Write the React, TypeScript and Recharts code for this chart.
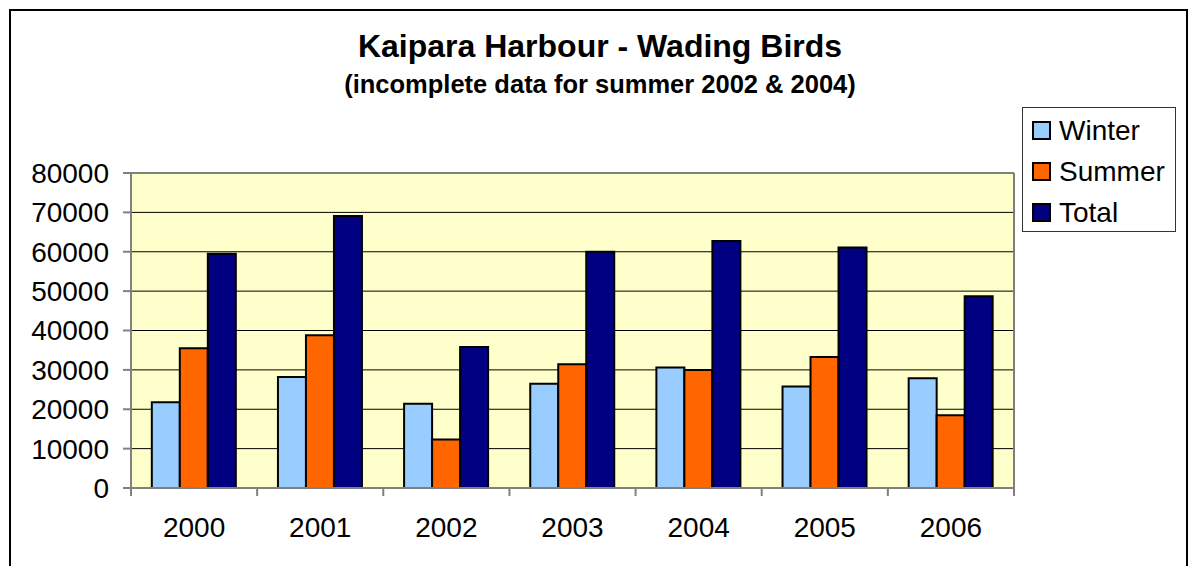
import React from 'react';
import { BarChart, Bar, XAxis, YAxis, CartesianGrid, Legend, ReferenceLine } from 'recharts';

const years = ['2000', '2001', '2002', '2003', '2004', '2005', '2006'];
const winter = [21800, 28200, 21400, 26500, 30600, 25800, 27900];
const summer = [35500, 38800, 12300, 31400, 30000, 33300, 18500];
const total = [59500, 69100, 35800, 60000, 62700, 61100, 48700];
const yTicks = [0, 10000, 20000, 30000, 40000, 50000, 60000, 70000, 80000];

const seriesOrder = ['Winter', 'Summer', 'Total'];
const colors = { winter: '#99CCFF', summer: '#FF6600', total: '#000080' };

const data = years.map((y, i) => ({
  year: y,
  winter: winter[i],
  summer: summer[i],
  total: total[i],
}));

const FONT = '"Liberation Sans", Arial, sans-serif';
const W = 1189;
const H = 566;
const MARGIN = { top: 173, right: 175, bottom: 38, left: 20 };
const Y_AXIS_W = 111;
const PLOT_W = W - MARGIN.left - MARGIN.right - Y_AXIS_W;
const X_TICK = 8;
const X_TICK_MARGIN = 21;
const AXIS_GRAY = '#808080';

const XTick = (props: any) => {
  const { x, y, payload, index } = props;
  const band = PLOT_W / years.length;
  const ty = y - X_TICK - X_TICK_MARGIN;
  return (
    <g>
      <line x1={x - band / 2} x2={x - band / 2} y1={ty} y2={ty + X_TICK} stroke={AXIS_GRAY} strokeWidth={2} />
      {index === years.length - 1 && (
        <line x1={x + band / 2} x2={x + band / 2} y1={ty} y2={ty + X_TICK} stroke={AXIS_GRAY} strokeWidth={2} />
      )}
      <text x={x} y={y} dy="0.71em" textAnchor="middle" fontSize={28} fontFamily={FONT} fill="#000">
        {payload.value}
      </text>
    </g>
  );
};

const LegendContent = (props: any) => {
  const items = [...(props.payload || [])].sort(
    (a: any, b: any) => seriesOrder.indexOf(a.value) - seriesOrder.indexOf(b.value)
  );
  return (
    <div
      style={{
        width: 152,
        height: 121,
        border: '1px solid #333',
        background: '#fff',
        boxSizing: 'content-box',
        paddingTop: 2,
      }}
    >
      {items.map((p: any) => (
        <div key={p.value} style={{ display: 'flex', alignItems: 'center', height: 41, marginLeft: 9 }}>
          <div
            style={{
              width: 15,
              height: 15,
              background: p.color,
              border: '2px solid #000',
              marginRight: 8,
            }}
          />
          <span style={{ fontFamily: FONT, fontSize: 28, color: '#000', lineHeight: '41px' }}>{p.value}</span>
        </div>
      ))}
    </div>
  );
};

export default function App() {
  return (
    <div style={{ position: 'absolute', left: 0, top: 0, width: W, height: H, background: '#fff', overflow: 'hidden' }}>
      <div
        style={{
          position: 'absolute',
          left: 9,
          top: 9,
          width: 1175,
          height: 600,
          border: '2px solid #000',
        }}
      />
      <div
        style={{
          position: 'absolute',
          left: 0,
          width: 1200,
          top: 30,
          textAlign: 'center',
          fontFamily: FONT,
          fontWeight: 'bold',
          fontSize: 32,
          lineHeight: '32px',
          color: '#000',
        }}
      >
        Kaipara Harbour - Wading Birds
      </div>
      <div
        style={{
          position: 'absolute',
          left: 0,
          width: 1200,
          top: 71,
          textAlign: 'center',
          fontFamily: FONT,
          fontWeight: 'bold',
          fontSize: 25.5,
          lineHeight: '26px',
          color: '#000',
        }}
      >
        (incomplete data for summer 2002 &amp; 2004)
      </div>
      <div style={{ position: 'absolute', left: 0, top: 0 }}>
        <BarChart
          width={W}
          height={H}
          data={data}
          margin={MARGIN}
          barCategoryGap="16.5%"
          barGap={0}
        >
          <CartesianGrid fill="#FFFFCC" stroke="#000" strokeWidth={1} vertical={false} />
          <CartesianGrid
            horizontal={false}
            stroke={AXIS_GRAY}
            strokeWidth={2}
            verticalCoordinatesGenerator={({ offset }: any) => [offset.left + offset.width]}
          />
          <ReferenceLine y={80000} stroke={AXIS_GRAY} strokeWidth={2} />
          <XAxis
            dataKey="year"
            height={40}
            tickLine={false}
            tickSize={X_TICK}
            tickMargin={X_TICK_MARGIN}
            axisLine={{ stroke: AXIS_GRAY, strokeWidth: 2 }}
            tick={<XTick />}
            interval={0}
          />
          <YAxis
            width={Y_AXIS_W}
            domain={[0, 80000]}
            ticks={yTicks}
            interval={0}
            tickSize={8}
            tickMargin={14}
            axisLine={{ stroke: AXIS_GRAY, strokeWidth: 2 }}
            tickLine={{ stroke: AXIS_GRAY, strokeWidth: 2 }}
            tick={{ fontSize: 28, fontFamily: FONT, fill: '#000' }}
          />
          <Legend
            layout="vertical"
            align="center"
            verticalAlign="middle"
            content={<LegendContent />}
            wrapperStyle={{ left: 1022, top: 107, width: 154, height: 124, right: 'auto', bottom: 'auto' }}
          />
          <Bar dataKey="winter" name="Winter" fill={colors.winter} stroke="#000" strokeWidth={2} isAnimationActive={false} />
          <Bar dataKey="summer" name="Summer" fill={colors.summer} stroke="#000" strokeWidth={2} isAnimationActive={false} />
          <Bar dataKey="total" name="Total" fill={colors.total} stroke="#000" strokeWidth={2} isAnimationActive={false} />
        </BarChart>
      </div>
    </div>
  );
}
